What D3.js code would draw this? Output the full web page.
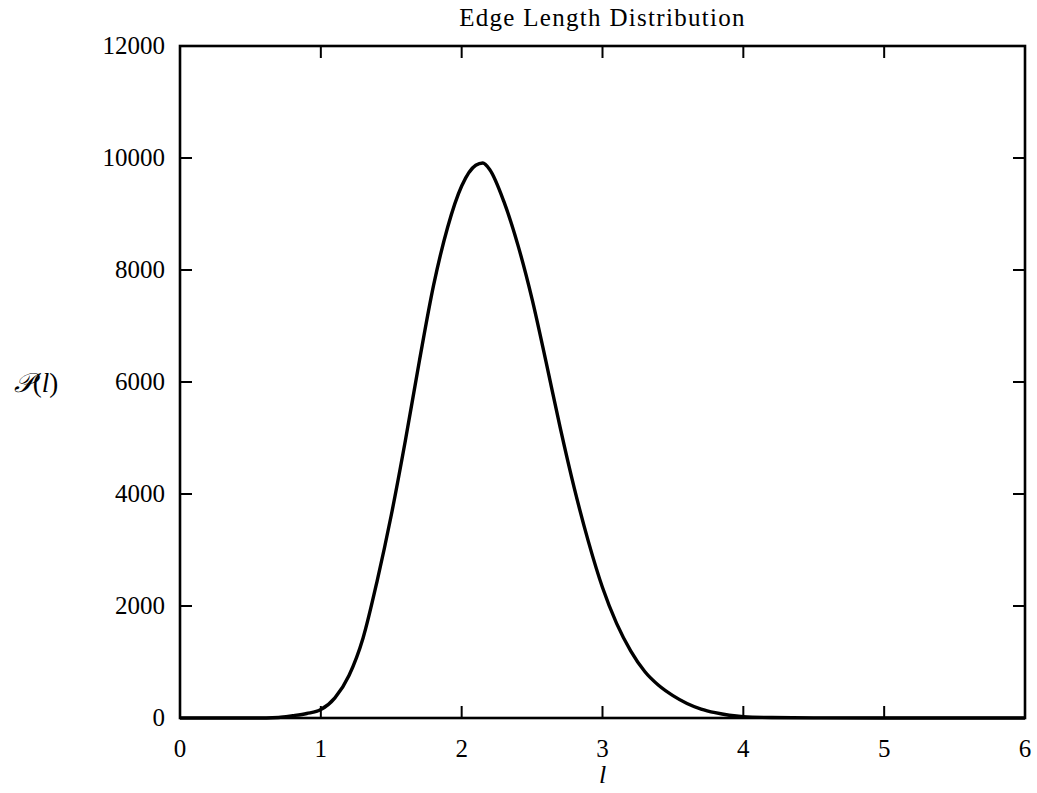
<!DOCTYPE html>
<html>
<head>
<meta charset="utf-8">
<script src="https://cdn.jsdelivr.net/npm/d3@7"></script>
<style>
html,body{margin:0;padding:0;background:#fff;}
text{font-family:"Liberation Serif","DejaVu Serif",serif;fill:#000;}
</style>
</head>
<body>
<svg id="chart" width="1037" height="793"></svg>
<script>
const titleText = "Edge Length Distribution";
const xTicks = [0, 1, 2, 3, 4, 5, 6];
const yTicks = [0, 2000, 4000, 6000, 8000, 10000, 12000];
const lengths = [0, 0.5, 0.7, 0.8, 0.9, 1.0, 1.1, 1.2, 1.3, 1.4, 1.5, 1.6, 1.7, 1.8, 1.9, 2.0, 2.1, 2.15, 2.2, 2.3, 2.4, 2.5, 2.6, 2.7, 2.8, 2.9, 3.0, 3.1, 3.2, 3.3, 3.4, 3.5, 3.6, 3.7, 3.8, 3.9, 4.0, 4.2, 4.5, 5.0, 6.0];
const counts  = [0, 0, 10, 40, 80, 150, 360, 760, 1430, 2450, 3620, 4950, 6380, 7720, 8760, 9500, 9870, 9910, 9790, 9220, 8440, 7480, 6350, 5180, 4100, 3150, 2330, 1690, 1200, 830, 580, 400, 260, 160, 95, 50, 24, 8, 2, 0, 0];

(function(){
const svg = d3.select("#chart");
const pL = 180, pR = 1025, pT = 46, pB = 718;
const x = d3.scaleLinear().domain([0, 6]).range([pL, pR]);
const y = d3.scaleLinear().domain([0, 12000]).range([pB, pT]);
const tickLen = 12;
const fs = 25;

const g = svg.append("g");
g.selectAll("line.xb").data(xTicks).enter().append("line")
  .attr("x1", d => x(d)).attr("x2", d => x(d)).attr("y1", pB).attr("y2", pB - tickLen)
  .attr("stroke", "#000").attr("stroke-width", 2);
g.selectAll("line.xt").data(xTicks).enter().append("line")
  .attr("x1", d => x(d)).attr("x2", d => x(d)).attr("y1", pT).attr("y2", pT + tickLen)
  .attr("stroke", "#000").attr("stroke-width", 2);
g.selectAll("line.yl").data(yTicks).enter().append("line")
  .attr("x1", pL).attr("x2", pL + tickLen).attr("y1", d => y(d)).attr("y2", d => y(d))
  .attr("stroke", "#000").attr("stroke-width", 2);
g.selectAll("line.yr").data(yTicks).enter().append("line")
  .attr("x1", pR).attr("x2", pR - tickLen).attr("y1", d => y(d)).attr("y2", d => y(d))
  .attr("stroke", "#000").attr("stroke-width", 2);

g.selectAll("text.xl").data(xTicks).enter().append("text")
  .attr("x", d => x(d)).attr("y", 757).attr("text-anchor", "middle")
  .attr("font-size", fs).text(d => d);
g.selectAll("text.yl").data(yTicks).enter().append("text")
  .attr("x", 165).attr("y", d => y(d) + 8).attr("text-anchor", "end")
  .attr("font-size", fs).text(d => d);

const data = lengths.map((l, i) => ({l, c: counts[i]}));
const line = d3.line().x(d => x(d.l)).y(d => y(Math.max(0, d.c))).curve(d3.curveMonotoneX);
svg.append("path").datum(data).attr("d", line)
  .attr("fill", "none").attr("stroke", "#000").attr("stroke-width", 3.4);

svg.append("rect").attr("x", pL).attr("y", pT).attr("width", pR - pL).attr("height", pB - pT)
  .attr("fill", "none").attr("stroke", "#000").attr("stroke-width", 2.6);

svg.append("text").attr("x", (pL + pR) / 2).attr("y", 26).attr("text-anchor", "middle")
  .attr("font-size", 25).attr("letter-spacing", 1.3).text(titleText);

const yl = svg.append("text").attr("x", 36).attr("y", 392).attr("text-anchor", "middle").attr("font-size", 27);
yl.append("tspan").attr("font-style", "italic").text("\u{1D4AB}");
yl.append("tspan").text("(");
yl.append("tspan").attr("font-style", "italic").text("l");
yl.append("tspan").text(")");

svg.append("text").attr("x", x(3)).attr("y", 783).attr("text-anchor", "middle")
  .attr("font-size", 26).attr("font-style", "italic").text("l");
})();
</script>
</body>
</html>
